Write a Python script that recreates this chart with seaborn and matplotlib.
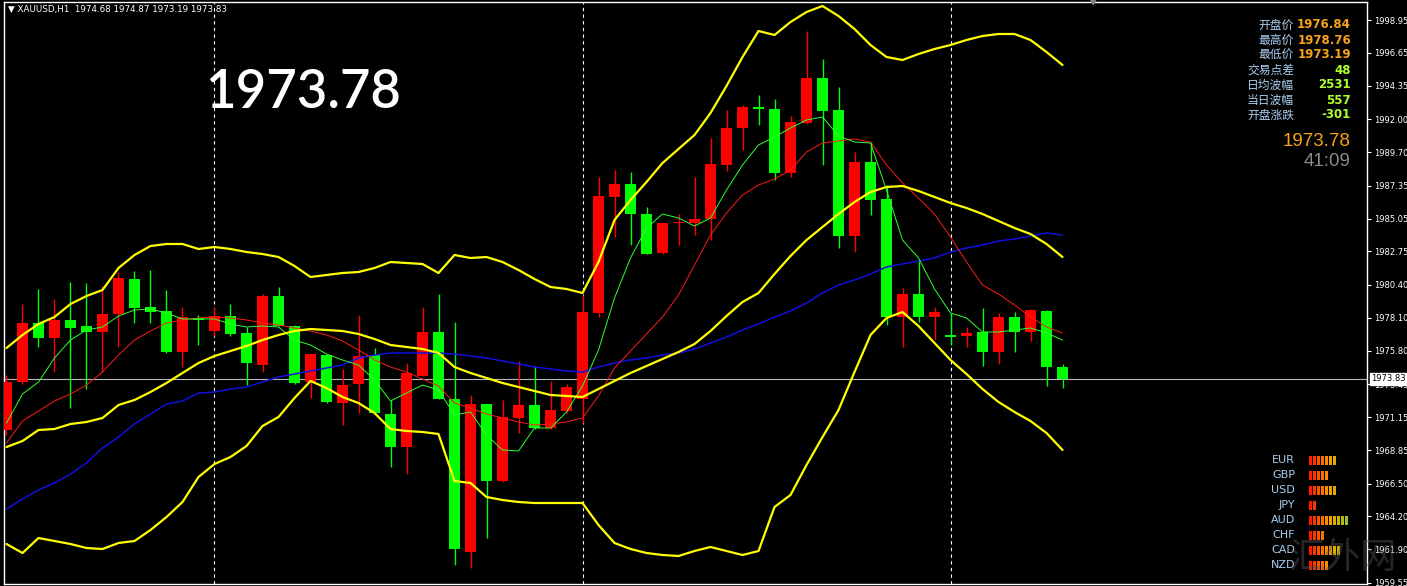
import numpy as np
import pandas as pd
import seaborn as sns
import matplotlib.pyplot as plt

# XAUUSD H1 candles, oldest -> newest
opens = [1970.25, 1973.61, 1977.74, 1976.69, 1977.95, 1977.53, 1977.11, 1978.37, 1980.82, 1978.86,
         1978.58, 1975.71, 1978.09, 1977.18, 1978.23, 1977.04, 1974.80, 1979.63, 1977.53, 1973.61,
         1975.50, 1972.14, 1973.47, 1975.50, 1971.37, 1969.06, 1974.03, 1977.11, 1972.42, 1961.71,
         1972.07, 1966.68, 1971.09, 1972.00, 1970.39, 1971.58, 1972.42, 1978.44, 1986.56, 1987.47,
         1985.37, 1982.64, 1984.74, 1984.74, 1985.02, 1988.80, 1991.39, 1992.86, 1992.72, 1988.24,
         1991.74, 1994.89, 1992.65, 1983.83, 1989.01, 1986.42, 1978.16, 1979.77, 1978.16, 1976.90,
         1976.83, 1977.11, 1975.71, 1978.16, 1977.11, 1978.58, 1974.68]
highs = [1974.10, 1979.07, 1980.12, 1979.42, 1980.61, 1980.54, 1980.33, 1981.31, 1981.38, 1981.45,
         1980.05, 1978.86, 1978.30, 1978.86, 1979.07, 1977.46, 1979.77, 1980.26, 1977.60, 1975.60,
         1975.55, 1974.52, 1978.30, 1975.99, 1972.35, 1974.94, 1978.86, 1979.77, 1977.81, 1972.70,
         1972.10, 1972.35, 1975.08, 1974.73, 1973.68, 1973.47, 1979.70, 1987.96, 1988.45, 1988.31,
         1985.86, 1984.76, 1985.37, 1987.96, 1990.69, 1992.65, 1993.00, 1993.70, 1993.42, 1992.23,
         1998.18, 1996.22, 1994.26, 1989.71, 1990.41, 1987.40, 1980.19, 1982.15, 1978.86, 1978.44,
         1977.46, 1978.79, 1978.44, 1978.51, 1978.70, 1978.62, 1974.87]
lows = [1969.90, 1973.47, 1976.06, 1974.31, 1971.79, 1973.12, 1974.31, 1976.06, 1977.74, 1977.74,
        1975.64, 1974.66, 1976.20, 1976.83, 1976.83, 1973.40, 1974.31, 1977.53, 1973.50, 1972.49,
        1972.15, 1970.60, 1971.44, 1971.40, 1967.66, 1967.17, 1974.00, 1972.40, 1960.80, 1960.59,
        1962.69, 1966.61, 1970.04, 1970.35, 1970.35, 1971.44, 1970.74, 1978.16, 1983.76, 1983.20,
        1982.55, 1982.55, 1983.20, 1983.90, 1983.55, 1988.38, 1989.85, 1991.60, 1987.75, 1987.96,
        1991.70, 1988.80, 1982.99, 1982.71, 1985.30, 1977.60, 1976.06, 1977.81, 1976.55, 1976.20,
        1976.06, 1974.73, 1974.87, 1975.71, 1976.48, 1973.33, 1973.19]
closes = [1973.61, 1977.74, 1976.69, 1977.95, 1977.39, 1977.11, 1978.37, 1980.89, 1978.79, 1978.51,
          1975.71, 1978.16, 1977.95, 1978.23, 1976.97, 1974.94, 1979.63, 1977.53, 1973.54, 1975.57,
          1972.21, 1973.40, 1975.43, 1971.44, 1969.06, 1974.24, 1977.11, 1972.42, 1961.92, 1972.07,
          1966.68, 1971.16, 1972.00, 1970.39, 1971.65, 1973.26, 1978.51, 1986.63, 1987.47, 1985.37,
          1982.57, 1984.74, 1984.81, 1985.02, 1988.87, 1991.39, 1992.86, 1992.72, 1988.24, 1991.81,
          1994.89, 1992.58, 1983.83, 1989.01, 1986.35, 1978.16, 1979.77, 1978.16, 1978.51, 1976.76,
          1977.04, 1975.71, 1978.16, 1977.11, 1978.65, 1974.66, 1973.83]

# indicator lines, one value per candle
upper_band = [1975.99, 1976.90, 1977.67, 1978.16, 1979.07, 1979.63, 1980.05, 1981.59, 1982.50, 1983.13,
              1983.27, 1983.27, 1982.92, 1983.06, 1982.92, 1982.71, 1982.57, 1982.36, 1981.73, 1980.96,
              1981.10, 1981.24, 1981.31, 1981.59, 1982.01, 1981.94, 1981.87, 1981.24, 1982.50, 1982.29,
              1982.36, 1982.01, 1981.45, 1980.82, 1980.26, 1980.12, 1979.84, 1982.01, 1984.95, 1986.35,
              1987.61, 1988.94, 1989.92, 1990.90, 1992.44, 1994.33, 1996.36, 1998.18, 1997.90, 1998.81,
              1999.51, 1999.93, 1999.23, 1998.32, 1997.20, 1996.36, 1996.15, 1996.57, 1996.92, 1997.20,
              1997.55, 1997.83, 1997.97, 1997.97, 1997.55, 1996.71, 1995.80]
mid_band = [1969.06, 1969.48, 1970.25, 1970.32, 1970.67, 1970.81, 1971.09, 1972.00, 1972.35, 1972.91,
            1973.54, 1974.24, 1974.94, 1975.43, 1975.78, 1976.13, 1976.55, 1976.90, 1977.18, 1977.32,
            1977.25, 1977.18, 1976.97, 1976.62, 1976.20, 1976.06, 1975.92, 1975.64, 1974.66, 1974.24,
            1973.89, 1973.54, 1973.26, 1972.98, 1972.70, 1972.63, 1972.56, 1973.12, 1973.68, 1974.24,
            1974.73, 1975.22, 1975.71, 1976.27, 1977.18, 1978.23, 1979.21, 1979.84, 1981.17, 1982.43,
            1983.55, 1984.46, 1985.37, 1986.21, 1986.91, 1987.26, 1987.33, 1986.98, 1986.56, 1986.14,
            1985.79, 1985.37, 1984.88, 1984.39, 1983.97, 1983.27, 1982.36]
lower_band = [1962.27, 1961.64, 1962.69, 1962.48, 1962.27, 1961.99, 1961.92, 1962.34, 1962.48, 1963.25,
              1964.16, 1965.21, 1966.96, 1967.87, 1968.36, 1969.13, 1970.53, 1971.16, 1972.49, 1973.68,
              1973.19, 1972.56, 1972.14, 1971.44, 1970.32, 1970.18, 1970.11, 1969.97, 1966.68, 1966.54,
              1965.56, 1965.35, 1965.21, 1965.14, 1965.14, 1965.14, 1965.14, 1963.60, 1962.34, 1961.92,
              1961.64, 1961.50, 1961.43, 1961.78, 1962.06, 1961.78, 1961.50, 1961.78, 1964.86, 1965.70,
              1967.80, 1969.76, 1971.65, 1974.31, 1976.90, 1978.09, 1978.51, 1977.53, 1976.34, 1975.15,
              1974.17, 1973.12, 1972.21, 1971.51, 1970.88, 1970.04, 1968.85]
ma_fast = [1970.74, 1972.77, 1973.61, 1975.29, 1976.55, 1977.25, 1977.46, 1978.23, 1978.65, 1978.72,
           1978.44, 1978.02, 1978.02, 1978.02, 1977.67, 1977.46, 1977.53, 1977.46, 1976.55, 1976.20,
           1975.57, 1975.15, 1974.80, 1973.75, 1972.28, 1972.84, 1973.40, 1973.05, 1971.30, 1971.51,
           1969.90, 1968.85, 1968.78, 1970.39, 1970.39, 1971.51, 1973.33, 1975.85, 1979.49, 1982.29,
           1984.39, 1985.37, 1985.09, 1984.53, 1985.09, 1987.05, 1988.80, 1990.20, 1990.76, 1991.39,
           1991.95, 1992.16, 1990.83, 1990.41, 1990.34, 1987.05, 1983.55, 1982.29, 1980.12, 1978.44,
           1978.09, 1977.11, 1977.11, 1977.25, 1977.39, 1977.04, 1976.55]
ma_mid = [1969.34, 1970.88, 1971.58, 1972.28, 1972.77, 1973.40, 1974.31, 1975.50, 1976.55, 1977.18,
          1977.74, 1977.95, 1978.09, 1978.16, 1978.09, 1977.95, 1977.74, 1977.60, 1977.39, 1977.18,
          1976.90, 1976.48, 1975.85, 1975.15, 1974.66, 1974.31, 1973.82, 1973.33, 1972.14, 1971.79,
          1971.37, 1971.09, 1970.81, 1970.60, 1970.67, 1970.81, 1971.09, 1972.63, 1974.59, 1975.78,
          1976.97, 1978.16, 1979.70, 1981.80, 1983.90, 1985.44, 1986.70, 1987.40, 1987.82, 1988.45,
          1989.71, 1990.34, 1990.48, 1990.62, 1990.41, 1988.80, 1987.54, 1986.49, 1985.37, 1983.76,
          1982.01, 1980.40, 1979.77, 1979.00, 1978.16, 1977.46, 1977.04]
ma_slow = [1964.72, 1965.42, 1966.05, 1966.54, 1967.17, 1967.94, 1968.99, 1969.76, 1970.67, 1971.37,
           1972.07, 1972.28, 1972.84, 1972.91, 1973.12, 1973.26, 1973.61, 1973.96, 1974.17, 1974.38,
           1974.59, 1974.80, 1975.29, 1975.50, 1975.64, 1975.64, 1975.64, 1975.64, 1975.57, 1975.43,
           1975.29, 1975.08, 1974.87, 1974.66, 1974.52, 1974.38, 1974.31, 1974.66, 1974.94, 1975.15,
           1975.29, 1975.50, 1975.64, 1975.92, 1976.34, 1976.76, 1977.25, 1977.67, 1978.16, 1978.58,
           1979.14, 1979.84, 1980.40, 1980.75, 1981.17, 1981.66, 1981.87, 1982.08, 1982.29, 1982.71,
           1982.99, 1983.20, 1983.48, 1983.62, 1983.83, 1984.04, 1983.90]

day_starts = [13, 36, 59]
price_ticks = [1998.95, 1996.65, 1994.35, 1992.00, 1989.70, 1987.35, 1985.05, 1982.75, 1980.40,
               1978.10, 1975.80, 1973.45, 1971.15, 1968.85, 1966.50, 1964.20, 1961.90, 1959.55]
last_bid = 1973.83
big_price = "1973.78"
header = "\u25BC XAUUSD,H1  1974.68 1974.87 1973.19 1973.83"

info_labels = ["开盘价", "最高价", "最低价", "交易点差", "日均波幅", "当日波幅", "开盘涨跌"]
info_values = ["1976.84", "1978.76", "1973.19", "48", "2531", "557", "-301"]
info_colors = ["#f7a21b"] * 3 + ["#adff2f"] * 4
clock_text = "41:09"

currencies = ["EUR", "GBP", "USD", "JPY", "AUD", "CHF", "CAD", "NZD"]
strength = [7, 5, 7, 2, 10, 4, 8, 5]

W, H = 1407, 586
sns.set_theme(style="dark", rc={"figure.facecolor": "black", "axes.facecolor": "black"})
plt.rcParams["font.family"] = ["DejaVu Sans", "Noto Sans CJK SC"]

fig = plt.figure(figsize=(W / 100, H / 100), dpi=100)
ax = fig.add_axes([4 / W, 2 / H, 1363 / W, 582 / H])
ax.set_facecolor("black")

df = pd.DataFrame({"open": opens, "high": highs, "low": lows, "close": closes})
df["x"] = np.arange(len(df))
up = df["close"] >= df["open"]
col = np.where(up, "#ff0000", "#00ff00")

# candles: wicks then bodies
ax.vlines(df["x"], df["low"], df["high"], colors=col, linewidth=1, zorder=2)
body = (df["close"] - df["open"]).abs().clip(lower=0.08)
ax.bar(df["x"], body, bottom=df[["open", "close"]].min(axis=1), width=0.69,
       color=col, linewidth=0, zorder=3)

lines = pd.DataFrame({"x": df["x"], "upper": upper_band, "mid": mid_band, "lower": lower_band,
                      "fast": ma_fast, "medium": ma_mid, "slow": ma_slow})
sns.lineplot(data=lines, x="x", y="slow", ax=ax, color="#1010e0", linewidth=1.1, zorder=4)
sns.lineplot(data=lines, x="x", y="medium", ax=ax, color="#ff1a1a", linewidth=0.7, zorder=4)
sns.lineplot(data=lines, x="x", y="fast", ax=ax, color="#30ff30", linewidth=0.7, zorder=4)
for band in ["upper", "mid", "lower"]:
    sns.lineplot(data=lines, x="x", y=band, ax=ax, color="#ffff00", linewidth=1.6, zorder=5)

for d in day_starts:
    ax.axvline(d, color="white", linestyle=(0, (3, 3)), linewidth=0.8, zorder=1)
ax.axhline(last_bid, color="#b8b8b8", linewidth=0.8, zorder=1)

ax.set_xlim(-0.156, 85.03)
ax.set_ylim(1959.47, 2000.21)
ax.set_xticks([])
ax.yaxis.tick_right()
ax.set_yticks(price_ticks)
ax.set_yticklabels([f"{t:.2f}" for t in price_ticks])
ax.tick_params(axis="y", colors="white", labelsize=6, length=3, width=0.8, pad=2, direction="out")
ax.set_xlabel("")
ax.set_ylabel("")
ax.grid(False)
for s in ax.spines.values():
    s.set_visible(True)
    s.set_color("white")
    s.set_linewidth(1)

ax.annotate(f"{last_bid:.2f}", xy=(1.0, last_bid), xycoords=("axes fraction", "data"),
            xytext=(3, 0), textcoords="offset points", ha="left", va="center",
            fontsize=6, color="black",
            bbox=dict(boxstyle="square,pad=0.15", fc="white", ec="white"))


def fx(px):
    return px / W


def fy(py):
    return 1 - py / H


fig.text(fx(8), fy(9), header, color="white", fontsize=6.3, va="center", ha="left")
fig.text(fx(303), fy(92), big_price, color="white", fontsize=38, family="Lato",
         fontweight="semibold", va="center", ha="center")

cjk = ["Noto Sans CJK SC", "DejaVu Sans"]
for i, (lab, val, c) in enumerate(zip(info_labels, info_values, info_colors)):
    yy = 25 + 15 * i
    fig.text(fx(1294), fy(yy), lab, color="#a9cdef", fontsize=8.5, family=cjk,
             ha="right", va="center")
    fig.text(fx(1351), fy(yy), val, color=c, fontsize=8.5, fontweight="bold",
             ha="right", va="center")
fig.text(fx(1351), fy(141), big_price, color="#f7a21b", fontsize=13.5,
         family="Liberation Sans", ha="right", va="center")
fig.text(fx(1351), fy(161), clock_text, color="#8a8a8a", fontsize=13.5,
         family="Liberation Sans", ha="right", va="center")

# currency strength meter, one small block per strength step
shades = ["#ff1a00", "#ff3300", "#ff5200", "#ff7000", "#ff8c00", "#f5a000",
          "#e0ac00", "#c8b400", "#b0bc10", "#98c420"]
for i, (cur, n) in enumerate(zip(currencies, strength)):
    yy = 460 + 15 * i
    fig.text(fx(1295), fy(yy), cur, color="#a9cdef", fontsize=8, ha="right", va="center")
    for j in range(n):
        fig.patches.append(plt.Rectangle((fx(1309 + 4 * j), fy(yy + 4.5)), 3 / W, 9 / H,
                                         transform=fig.transFigure, facecolor=shades[j],
                                         edgecolor="none", antialiased=False, figure=fig))

fig.text(fx(1343), fy(558), "汇外网", color="#555555", alpha=0.45, fontsize=26,
         family=cjk, ha="center", va="center")
fig.text(fx(1093), fy(3), "\u25BC", color="#808080", fontsize=6, ha="center", va="center")

fig.savefig("out.png", dpi=100, facecolor="black")
